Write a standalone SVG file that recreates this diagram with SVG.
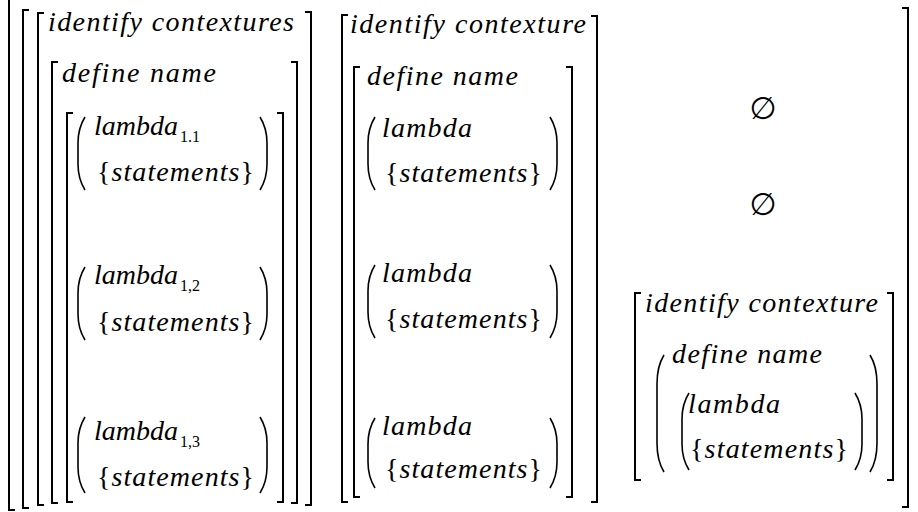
<svg xmlns="http://www.w3.org/2000/svg" width="918" height="512" viewBox="0 0 918 512">
<style>
.br{fill:none;stroke:#000;stroke-width:2}
.pa{fill:none;stroke:#000;stroke-width:1.6}
text{fill:#000}
.t{font-family:"Liberation Serif","Times New Roman",serif;font-style:italic;font-size:28px}
.u{font-style:normal}
.s{font-family:"Liberation Serif","Times New Roman",serif;font-style:normal;font-size:16px}
.e{font-family:"DejaVu Sans",sans-serif;font-size:31px}
</style>
<rect width="918" height="512" fill="#fff"/>
<g id="outer">
<path class="br" d="M15,-5 H9 V510 H15"/>
<path class="br" d="M29,10 H23 V508 H29"/>
<path class="br" d="M902,8 H908 V507 H902"/>
</g>
<g id="col1">
<path class="br" d="M44,13 H38 V505 H44"/>
<path class="br" d="M305,12 H311 V505 H305"/>
<text class="t" x="48" y="31" textLength="246">identify contextures</text>
<path class="br" d="M58,62 H52 V503 H58"/>
<path class="br" d="M291,62 H297 V503 H291"/>
<text class="t" x="62" y="82" textLength="154">define name</text>
<path class="br" d="M73,113 H67 V502 H73"/>
<path class="br" d="M277,113 H283 V502 H277"/>
<g id="c1r1">
<path class="pa" d="M85,117 C80,125 78,133 78,143 L78,164 C78,174 80,182 85,190"/>
<path class="pa" d="M260,117 C265,125 267,133 267,143 L267,164 C267,174 265,182 260,190"/>
<text class="t" x="94" y="135">lambda</text><text class="s" x="180" y="142">1.1</text>
<text class="t" x="97" y="181" textLength="157"><tspan class="u">{</tspan>statements<tspan class="u">}</tspan></text>
</g>
<g id="c1r2">
<path class="pa" d="M85,267 C80,275 78,283 78,293 L78,314 C78,324 80,332 85,340"/>
<path class="pa" d="M260,267 C265,275 267,283 267,293 L267,314 C267,324 265,332 260,340"/>
<text class="t" x="94" y="284">lambda</text><text class="s" x="180" y="291">1,2</text>
<text class="t" x="97" y="331" textLength="157"><tspan class="u">{</tspan>statements<tspan class="u">}</tspan></text>
</g>
<g id="c1r3">
<path class="pa" d="M85,417 C80,425 78,433 78,443 L78,467 C78,477 80,485 85,493"/>
<path class="pa" d="M260,417 C265,425 267,433 267,443 L267,467 C267,477 265,485 260,493"/>
<text class="t" x="94" y="440">lambda</text><text class="s" x="180" y="447">1,3</text>
<text class="t" x="97" y="486" textLength="157"><tspan class="u">{</tspan>statements<tspan class="u">}</tspan></text>
</g>
</g>
<g id="col2">
<path class="br" d="M348,15 H342 V502 H348"/>
<path class="br" d="M591,16 H597 V502 H591"/>
<text class="t" x="350" y="33" textLength="236">identify contexture</text>
<path class="br" d="M360,67 H354 V497 H360"/>
<path class="br" d="M566,67 H572 V497 H566"/>
<text class="t" x="367" y="85" textLength="151">define name</text>
<g id="c2r1">
<path class="pa" d="M375,117 C370,125 368,133 368,143 L368,164 C368,174 370,182 375,190"/>
<path class="pa" d="M550,117 C555,125 557,133 557,143 L557,164 C557,174 555,182 550,190"/>
<text class="t" x="382" y="137" textLength="90">lambda</text>
<text class="t" x="385" y="182" textLength="157"><tspan class="u">{</tspan>statements<tspan class="u">}</tspan></text>
</g>
<g id="c2r2">
<path class="pa" d="M375,265 C370,273 368,281 368,291 L368,312 C368,322 370,330 375,338"/>
<path class="pa" d="M550,265 C555,273 557,281 557,291 L557,312 C557,322 555,330 550,338"/>
<text class="t" x="382" y="282" textLength="90">lambda</text>
<text class="t" x="385" y="328" textLength="157"><tspan class="u">{</tspan>statements<tspan class="u">}</tspan></text>
</g>
<g id="c2r3">
<path class="pa" d="M375,418 C370,426 368,434 368,444 L368,462 C368,472 370,480 375,488"/>
<path class="pa" d="M550,418 C555,426 557,434 557,444 L557,462 C557,472 555,480 550,488"/>
<text class="t" x="382" y="435" textLength="90">lambda</text>
<text class="t" x="385" y="478" textLength="157"><tspan class="u">{</tspan>statements<tspan class="u">}</tspan></text>
</g>
</g>
<g id="col3">
<text class="e" x="763" y="119" text-anchor="middle">∅</text>
<text class="e" x="763" y="215" text-anchor="middle">∅</text>
<g id="c3r3">
<path class="br" d="M641,293 H635 V480 H641"/>
<path class="br" d="M887,293 H893 V480 H887"/>
<text class="t" x="645" y="312" textLength="233">identify contexture</text>
<path class="pa" d="M664,355 C659,363 657,372 657,384 L657,443 C657,455 659,464 664,472"/>
<path class="pa" d="M870,355 C875,363 877,372 877,384 L877,443 C877,455 875,464 870,472"/>
<text class="t" x="672" y="363" textLength="150">define name</text>
<path class="pa" d="M689,393 C684,401 682,409 682,419 L682,444 C682,454 684,462 689,470"/>
<path class="pa" d="M855,393 C860,401 862,409 862,419 L862,444 C862,454 860,462 855,470"/>
<text class="t" x="688" y="413" textLength="92">lambda</text>
<text class="t" x="690" y="458" textLength="158"><tspan class="u">{</tspan>statements<tspan class="u">}</tspan></text>
</g>
</g>
</svg>
